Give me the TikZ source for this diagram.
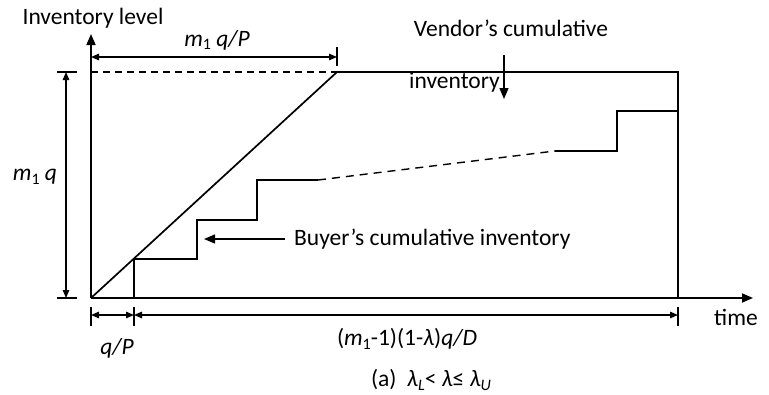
\documentclass[tikz,border=0pt]{standalone}
\usepackage{fontspec}
\setmainfont{Carlito}
\usetikzlibrary{arrows.meta}
\newcommand{\sbs}[1]{\raisebox{-0.3ex}{\fontsize{16}{16}\selectfont #1}}
\begin{document}
\begin{tikzpicture}[x=1pt,y=-1pt,
  line/.style={line width=1.7pt},
  thin line/.style={line width=1.4pt},
  tip/.style={-{Triangle[length=11pt,width=9pt]}},
  dimtip/.style={{Triangle[length=8pt,width=6.5pt]}-{Triangle[length=8pt,width=6.5pt]}, line width=1.3pt},
  lbl/.style={font=\fontsize{23.5}{26}\selectfont, inner sep=0pt}]
\useasboundingbox (0,0) rectangle (769,394);
% key points
\coordinate (O) at (91,298);
\coordinate (Ytop) at (91,34);
\coordinate (Xend) at (753,298);
\coordinate (Ptop) at (337,72);
\coordinate (Rtop) at (678,72);
\coordinate (Rbot) at (678,298);
% axes
\draw[line,tip] (O) -- (Ytop);
\draw[line,tip] (O) -- (Xend);
% vendor
\draw[thin line,dash pattern=on 7pt off 5pt] (Ytop |- Ptop) -- (Ptop);
\draw[line] (O) -- (Ptop) -- (Rtop) -- (Rbot);
% buyer steps
\draw[thin line] (134,298) -- (134,259) -- (197,259) -- (197,220) -- (257,220) -- (257,180) -- (318,180);
\draw[thin line,dash pattern=on 8pt off 6pt] (318,180) -- (555,151);
\draw[thin line] (555,151) -- (617,151) -- (617,111) -- (678,111);
% m1 q/P dimension
\coordinate (d1a) at (91,57);
\coordinate (d1b) at (337,57);
\draw[thin line] (337,47) -- (337,66);
\draw[dimtip] (d1a) -- (d1b);
\node[lbl] (m1qP) at (217,40) {\textit{m}\sbs{1} \textit{q/P}};
% m1 q dimension
\draw[thin line] (57,72) -- (77,72);
\draw[thin line] (57,298) -- (77,298);
\coordinate (d2a) at (66,72);
\coordinate (d2b) at (66,298);
\draw[dimtip] (d2a) -- (d2b);
\node[lbl] (m1q) at (35,177) {\textit{m}\sbs{1} \textit{q}};
% bottom dimensions
\draw[thin line] (91,307) -- (91,326);
\draw[thin line] (134,307) -- (134,326);
\draw[thin line] (678,307) -- (678,326);
\coordinate (b1) at (91,315);
\coordinate (b2) at (134,315);
\coordinate (b3) at (678,315);
\draw[dimtip] (b1) -- (b2);
\draw[dimtip] (b2) -- (b3);
\node[lbl] (qP) at (117,348) {\textit{q/P}};
\node[lbl] (len) at (407,339) {(\textit{m}\sbs{1}-1)(1-\textit{λ})\textit{q/D}};
\node[lbl] (cap) at (431,380) {(a)\ \ \textit{λ}\sbs{\textit{L}}< \textit{λ}≤ \textit{λ}\sbs{\textit{U}}};
\node[lbl] (time) at (736,317) {time};
\node[lbl] (invl) at (93,18) {Inventory level};
% vendor label
\node[lbl] (vend) at (511,28) {Vendor’s cumulative};
\node[lbl,anchor=west] (vend2) at (409,82) {inventory};
\coordinate (va) at (504,55);
\coordinate (vb) at (504,99);
\draw[thin line,tip] (va) -- (vb);
% buyer label
\node[lbl,anchor=west] (buy) at (294,239) {Buyer’s cumulative inventory};
\coordinate (ba) at (285,239);
\coordinate (bb) at (204,239);
\draw[thin line,tip] (ba) -- (bb);
\end{tikzpicture}
\end{document}
